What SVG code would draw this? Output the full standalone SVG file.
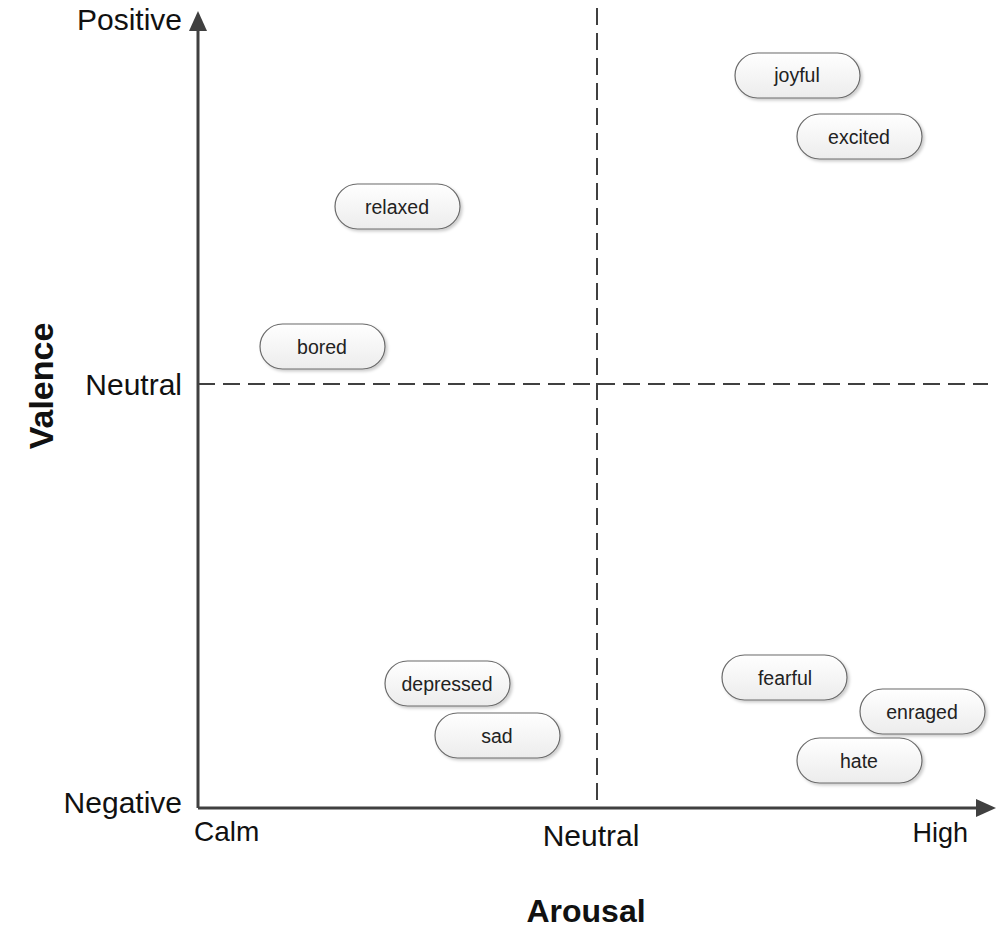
<svg xmlns="http://www.w3.org/2000/svg" width="997" height="928" viewBox="0 0 997 928">
<style>
.pill{fill:url(#g);stroke:#6a6a6a;stroke-width:1.2;filter:url(#sh)}
.pt{font-family:"Liberation Sans",Arial,sans-serif;font-size:19.5px;fill:#222;text-anchor:middle;dominant-baseline:central}
.lab{font-family:"Liberation Sans",Arial,sans-serif;font-size:30px;fill:#111}
.ttl{font-family:"Liberation Sans",Arial,sans-serif;font-weight:bold;fill:#111;text-anchor:middle}
.ax{stroke:#404040;stroke-width:3;fill:none}
.dash{stroke:#404040;stroke-width:2;stroke-dasharray:17,8;fill:none}
</style>
<defs>
<linearGradient id="g" x1="0" y1="0" x2="0" y2="1"><stop offset="0" stop-color="#ffffff"/><stop offset="1" stop-color="#ececec"/></linearGradient>
<filter id="sh" x="-10%" y="-20%" width="130%" height="150%"><feDropShadow dx="2" dy="2" stdDeviation="1.5" flood-color="#000" flood-opacity="0.2"/></filter>
</defs>
<rect width="997" height="928" fill="#fff"/>
<g id="connectors">
<line class="dash" x1="597" y1="8" x2="597" y2="806"/>
<line class="dash" x1="198" y1="384" x2="988" y2="384"/>
<line class="ax" x1="198" y1="808" x2="198" y2="24"/>
<path d="M198,11 L189,31 L207,31 Z" fill="#404040"/>
<line class="ax" x1="198" y1="808" x2="980" y2="808"/>
<path d="M996,808 L976,799 L976,817 Z" fill="#404040"/>
</g>
<g id="labels">
<text class="lab" x="182" y="30" text-anchor="end">Positive</text>
<text class="lab" x="182" y="395" text-anchor="end">Neutral</text>
<text class="lab" x="182" y="813" text-anchor="end">Negative</text>
<text class="lab" x="194" y="841" style="font-size:28px">Calm</text>
<text class="lab" x="591" y="846" text-anchor="middle">Neutral</text>
<text class="lab" x="968" y="842" text-anchor="end" style="font-size:27px">High</text>
<text class="ttl" x="586" y="922" style="font-size:32px">Arousal</text>
<text class="ttl" transform="translate(53,386) rotate(-90)" style="font-size:34px">Valence</text>
</g>
<g id="joyful"><rect class="pill" x="735" y="53" width="125" height="45" rx="22.5"/><text class="pt" x="797" y="75">joyful</text></g>
<g id="excited"><rect class="pill" x="797" y="114" width="125" height="45" rx="22.5"/><text class="pt" x="859" y="137">excited</text></g>
<g id="relaxed"><rect class="pill" x="335" y="184" width="125" height="45" rx="22.5"/><text class="pt" x="397" y="207">relaxed</text></g>
<g id="bored"><rect class="pill" x="260" y="324" width="125" height="45" rx="22.5"/><text class="pt" x="322" y="347">bored</text></g>
<g id="depressed"><rect class="pill" x="385" y="661" width="125" height="45" rx="22.5"/><text class="pt" x="447" y="684">depressed</text></g>
<g id="sad"><rect class="pill" x="435" y="713" width="125" height="45" rx="22.5"/><text class="pt" x="497" y="736">sad</text></g>
<g id="fearful"><rect class="pill" x="722" y="655" width="125" height="45" rx="22.5"/><text class="pt" x="785" y="678">fearful</text></g>
<g id="enraged"><rect class="pill" x="860" y="689" width="125" height="45" rx="22.5"/><text class="pt" x="922" y="712">enraged</text></g>
<g id="hate"><rect class="pill" x="797" y="738" width="125" height="45" rx="22.5"/><text class="pt" x="859" y="761">hate</text></g>
</svg>
